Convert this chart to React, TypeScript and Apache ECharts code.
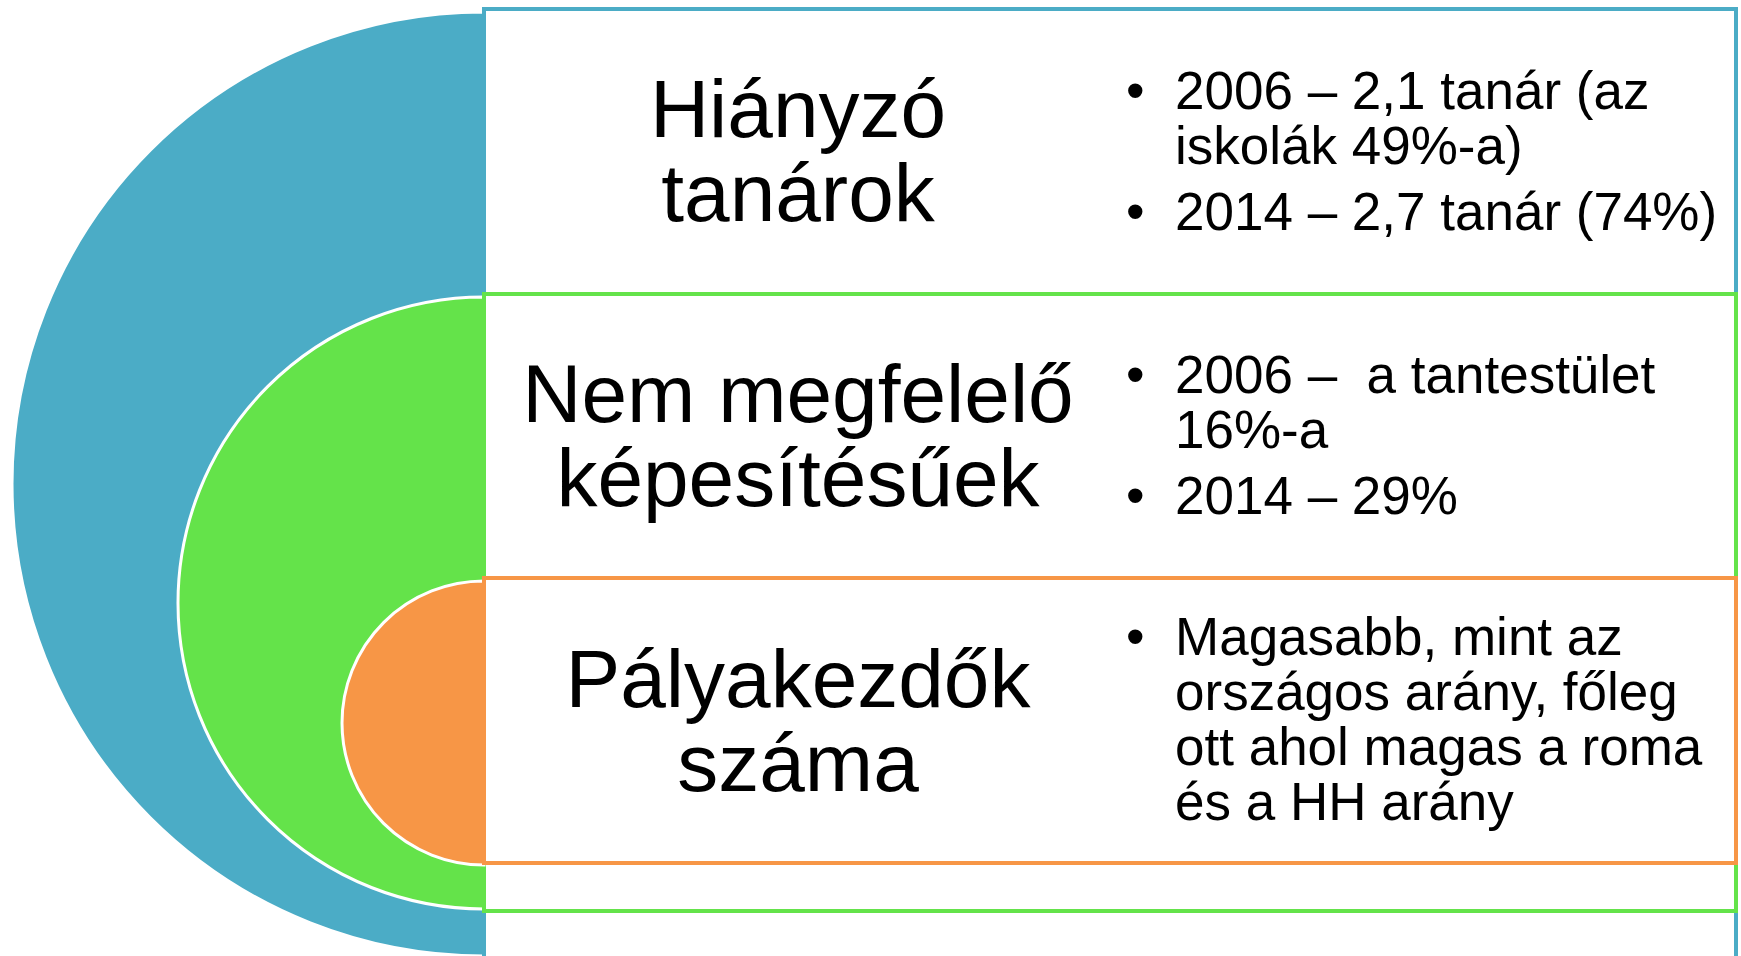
import React, { useEffect, useRef } from "react";
import * as echarts from "echarts";

// ---- content ----
const titles = ["Hiányzó\ntanárok", "Nem megfelelő\nképesítésűek", "Pályakezdők\nszáma"];
const bulletsBlue = [["2006 – 2,1 tanár (az", "iskolák 49%-a)"], ["2014 – 2,7 tanár (74%)"]];
const bulletsGreen = [["2006 – \u00a0a tantestület", "16%-a"], ["2014 – 29%"]];
const bulletsOrange = [["Magasabb, mint az", "országos arány, főleg", "ott ahol magas a roma", "és a HH arány"]];
const colors = ["#4BACC6", "#64E34A", "#F79646"];

// ---- layout ----
const CX = 484;
const RIGHT = 1736;
const circles = [
  { cy: 484, r: 472 },
  { cy: 603, r: 306 },
  { cy: 723, r: 142 },
];
const boxes = [
  { top: 9, bottom: 1010 },
  { top: 294, bottom: 911 },
  { top: 578, bottom: 863 },
];
const titleY = [150.5, 435, 720.5];
const firstBaseline = [109, 393, 655];
const TITLE_X = 798;
const TITLE_FS = 82;
const BUL_FS = 53;
const LINE_STEP = 55;
const PARA_GAP = 11;
const BULLET_X = 1126;
const TEXT_X = 1175;
const FONT = "'Liberation Sans', Arial, sans-serif";
const CENTRAL = 0.3465;

export default function App() {
  const ref = useRef<HTMLDivElement>(null);
  useEffect(() => {
    document.body.style.margin = "0";
    const chart = echarts.init(ref.current!, null, { renderer: "svg" });
    const graphic: any[] = [];
    let z = 1;
    const bulletSets = [bulletsBlue, bulletsGreen, bulletsOrange];
    for (let i = 0; i < 3; i++) {
      graphic.push({
        type: "sector",
        z: z++,
        shape: { cx: CX, cy: circles[i].cy, r: circles[i].r, r0: 0, startAngle: Math.PI / 2, endAngle: (Math.PI * 3) / 2, clockwise: true },
        style: { fill: colors[i], stroke: "#ffffff", lineWidth: 3 },
      });
      graphic.push({
        type: "rect",
        z: z++,
        shape: { x: CX, y: boxes[i].top, width: RIGHT - CX, height: boxes[i].bottom - boxes[i].top },
        style: { fill: "#ffffff", stroke: colors[i], lineWidth: 4 },
      });
    }
    for (let i = 0; i < 3; i++) {
      graphic.push({
        type: "text",
        z: 100,
        x: TITLE_X,
        y: titleY[i],
        style: {
          text: titles[i],
          fill: "#000000",
          font: `${TITLE_FS}px ${FONT}`,
          fontSize: TITLE_FS,
          fontFamily: FONT,
          lineHeight: 84,
          align: "center",
          verticalAlign: "middle",
        },
      });
      let base = firstBaseline[i];
      bulletSets[i].forEach((para, pi) => {
        if (pi > 0) base += PARA_GAP;
        para.forEach((line, li) => {
          if (li === 0) {
            graphic.push({
              type: "text",
              z: 100,
              x: BULLET_X,
              y: base - CENTRAL * BUL_FS,
              style: { text: "•", fill: "#000", fontSize: BUL_FS, fontFamily: FONT, align: "left", verticalAlign: "middle" },
            });
          }
          graphic.push({
            type: "text",
            z: 100,
            x: TEXT_X,
            y: base - CENTRAL * BUL_FS,
            style: { text: line, fill: "#000", fontSize: BUL_FS, fontFamily: FONT, align: "left", verticalAlign: "middle" },
          });
          base += LINE_STEP;
        });
        base -= LINE_STEP;
        base += LINE_STEP;
      });
    }
    chart.setOption({ animation: false, graphic });
    return () => chart.dispose();
  }, []);
  return <div ref={ref} style={{ width: 1741, height: 956 }} />;
}
